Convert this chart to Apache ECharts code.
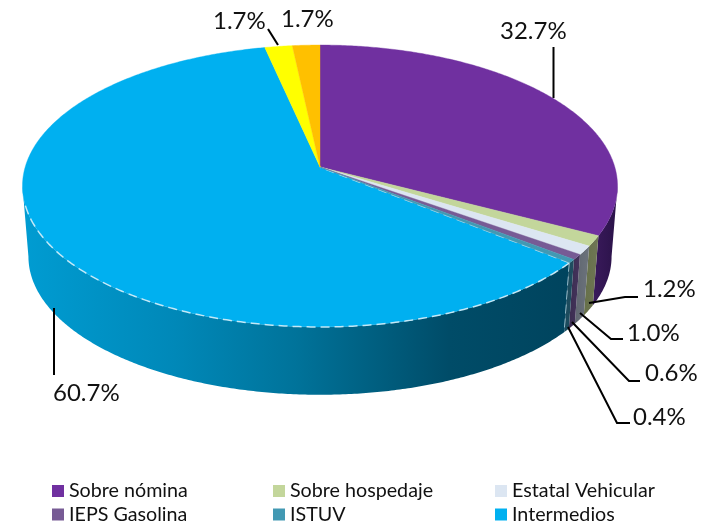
<!DOCTYPE html>
<html><head><meta charset="utf-8">
<style>html,body{margin:0;padding:0;background:#fff}#c{width:711px;height:525px}</style>
<script src="https://cdn.jsdelivr.net/npm/echarts@6/dist/echarts.min.js"></script>
</head><body><div id="c"></div>
<script>
const categories = ['Sobre nómina','Sobre hospedaje','Estatal Vehicular','IEPS Gasolina','ISTUV','Intermedios','Otros A','Otros B'];
const values = [32.7,1.2,1.0,0.6,0.4,60.7,1.7,1.7];
const labels = ['32.7%','1.2%','1.0%','0.6%','0.4%','60.7%','1.7%','1.7%'];
const topColors = ['#7030A0','#C3D69B','#DCE6F2','#775B95','#4299B3','#00B0F0','#FFFF00','#FFC000'];
const sideStops = [
  [[0,'#3A1A5C'],[1,'#2A1248']],
  [[0,'#667048'],[1,'#6F7656']],
  [[0,'#5F6670'],[1,'#6C737C']],
  [[0,'#3A2C50'],[1,'#45345C']],
  [[0,'#1A4A5C'],[1,'#204E60']],
  [[0,'#009CD2'],[0.28,'#0088B8'],[0.5,'#00739A'],[0.78,'#004C68'],[1,'#00445E']],
  null, null
];
const legendEntries = [0,1,2,3,4,5];

const G = {cx:320, cy:167, a:294.8, b:138.4, k:0.1348, s:0.98, dy:71};
const leftMost = 262.3, rightMost = 97.7;

function pt(deg, low){
  const t = deg*Math.PI/180, u = Math.sin(t), v = Math.cos(t), w = 1+G.k*v;
  const s = low ? G.s : 1;
  return [G.cx + s*G.a*u/w, G.cy + (low?G.dy:0) - s*G.b*v/w];
}
function arc(a0,a1,low){
  const n = Math.max(2,Math.ceil(Math.abs(a1-a0)/0.5)), out=[];
  for(let i=0;i<=n;i++) out.push(pt(a0+(a1-a0)*i/n,low));
  return out;
}
const total = values.reduce((x,y)=>x+y,0);
const starts = []; values.reduce((acc,v,i)=>(starts[i]=acc,acc+v),0);
const ang = p => p/total*360;

const leaders = {
  0:{line:[[553.5,98],[553.5,47]],text:[500,31]},
  1:{line:[[589,303],[625,297],[638,297]],text:[643,289]},
  2:{line:[[580,313],[611,339],[623,339]],text:[627,333]},
  3:{line:[[572,322],[629,381],[640,381]],text:[645,373]},
  4:{line:[[568,327],[617,423],[630,423]],text:[633,417]},
  5:{line:[[54,308],[54,375]],text:[53,393]},
  6:{line:[[278,45],[268,29]],text:[213,21]},
  7:{line:null,text:[281,19]}
};
const FONT_FAMILY = 'Lato, "Open Sans", sans-serif';
const LABEL_FONT = '24px ' + FONT_FAMILY;

function sideItem(i){
  const stops = sideStops[i];
  if(!stops) return null;
  const a0 = Math.max(ang(starts[i]), rightMost), a1 = Math.min(ang(starts[i]+values[i]), leftMost);
  if(a1<=a0) return null;
  const pts = arc(a0,a1,false).concat(arc(a1,a0,true));
  return {type:'polygon',shape:{points:pts},silent:true,z2:1,
    style:{fill:new echarts.graphic.LinearGradient(0,0,1,0,stops.map(s=>({offset:s[0],color:s[1]})))}};
}
function topItem(i){
  const a0=ang(starts[i]), a1=ang(starts[i]+values[i]);
  return {type:'polygon',shape:{points:[[G.cx,G.cy]].concat(arc(a0,a1,false))},silent:true,z2:2,
    style:{fill:topColors[i],stroke:topColors[i],lineWidth:0.4}};
}
function renderSlice(params){
  const i = params.seriesIndex, ch=[];
  const side = sideItem(i); if(side) ch.push(side);
  ch.push(topItem(i));
  if(i===5){
    const a0=ang(starts[i]), a1=ang(starts[i]+values[i]);
    const dash={stroke:'rgba(214,238,248,0.9)',lineWidth:1.5,lineDash:[9,5],fill:null};
    ch.push({type:'polyline',shape:{points:arc(a0,Math.min(a1,leftMost-6),false)},silent:true,z2:3,style:dash});
    ch.push({type:'polyline',shape:{points:[pt(a0,false),[G.cx,G.cy]]},silent:true,z2:3,style:dash});
    ch.push({type:'polyline',shape:{points:[pt(a0,false),pt(a0,true)]},silent:true,z2:3,style:dash});
  }
  const L = leaders[i];
  if(L.line) ch.push({type:'polyline',shape:{points:L.line},silent:true,z2:5,style:{stroke:'#000',lineWidth:2,fill:null}});
  ch.push({type:'text',silent:true,z2:6,style:{x:L.text[0],y:L.text[1],text:labels[i],fill:'#111',font:LABEL_FONT,textAlign:'left',textVerticalAlign:'middle'}});
  return {type:'group',children:ch};
}
const series = categories.map((name,i)=>({
  type:'custom',name,coordinateSystem:'none',silent:true,animation:false,
  renderItem:renderSlice,data:[[values[i]]],
  itemStyle:{color:topColors[i]},
  z:i===5?1:2, clip:false
}));
const legendLeft=[52,273,495], legendTop=[481,504.5];
const legend = legendEntries.map((k,n)=>({
  orient:'horizontal',left:legendLeft[n%3],top:legendTop[Math.floor(n/3)],itemWidth:12,itemHeight:12,
  selectedMode:false,icon:'rect',padding:0,
  textStyle:{fontFamily:FONT_FAMILY,fontSize:19.7,lineHeight:18,color:'#111'},
  data:[categories[k]]
}));
const chart = echarts.init(document.getElementById('c'),null,{renderer:'canvas'});
chart.setOption({animation:false,backgroundColor:'#fff',legend,series});
</script></body></html>
